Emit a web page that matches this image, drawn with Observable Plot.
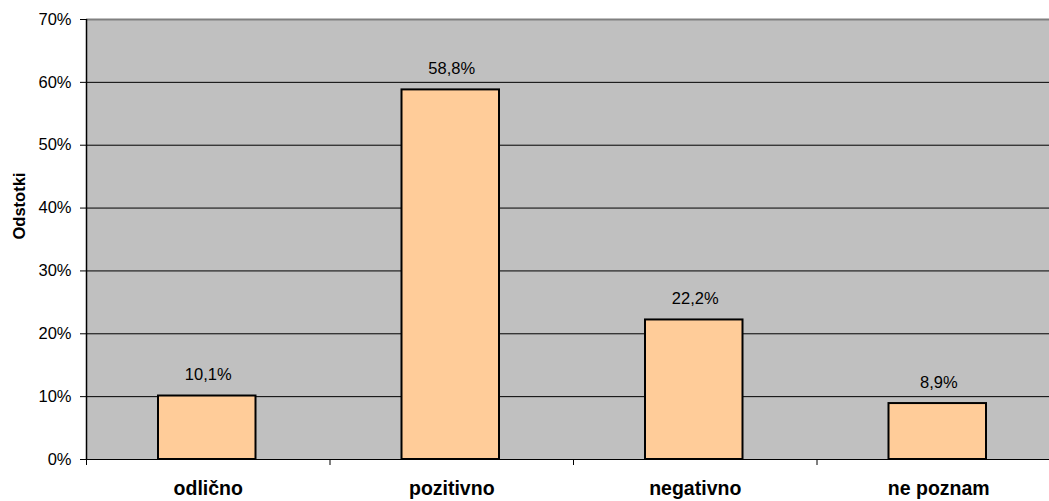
<!DOCTYPE html>
<html>
<head>
<meta charset="utf-8">
<script src="https://cdn.jsdelivr.net/npm/d3@7"></script>
<script src="https://cdn.jsdelivr.net/npm/@observablehq/plot@0.6"></script>
<style>
  html, body { margin: 0; padding: 0; background: #fff; overflow: hidden; }
  #chart svg { display: block; max-width: none !important; }
</style>
</head>
<body>
<div id="chart"></div>
<script>
// Survey answers and their shares (percent)
const categories = ["odlično", "pozitivno", "negativno", "ne poznam"];
const values = [10.1, 58.8, 22.2, 8.9];
const yTicks = [0, 10, 20, 30, 40, 50, 60, 70];

const data = categories.map((c, i) => ({ category: c, index: i, value: values[i] }));
const fmt = v => v.toFixed(1).replace(".", ",") + "%";

const chart = Plot.plot({
  width: 1060,
  height: 501,
  marginLeft: 86,
  marginRight: 0,
  marginTop: 19,
  marginBottom: 42,
  style: { fontFamily: "Arial, 'Liberation Sans', sans-serif", background: "#fff", maxWidth: "none" },
  x: { type: "linear", domain: [0, categories.length], axis: null },
  y: { domain: [0, 70], axis: null },
  marks: [
    // plot background
    Plot.frame({ fill: "#c0c0c0", stroke: null }),
    // horizontal gridlines
    Plot.ruleY(yTicks.filter(t => t > 0 && t < 70), { stroke: "#000", strokeWidth: 1 }),
    // top border of the plot area
    Plot.ruleY([70], { stroke: "#808080", strokeWidth: 2 }),
    // bars
    Plot.rectY(data, {
      x1: d => d.index, x2: d => d.index + 1, y: "value",
      insetLeft: 72, insetRight: 74,
      fill: "#ffcc99", stroke: "#000", strokeWidth: 2
    }),
    // value labels
    Plot.text(data, {
      x: d => d.index + 0.5, y: "value", text: d => fmt(d.value),
      dy: -21, fontSize: 16.5, fill: "#000"
    }),
    // axis lines
    Plot.ruleY([0], { stroke: "#000", strokeWidth: 1 }),
    Plot.ruleX([0], { stroke: "#000", strokeWidth: 1.5 }),
    // y axis ticks and labels
    Plot.axisY(yTicks, {
      label: null, tickSize: 6, tickPadding: 9, fontSize: 16.5, stroke: "#000",
      tickFormat: d => d + "%", fill: "#000"
    }),
    // category boundary ticks
    Plot.axisX(d3.range(categories.length + 1), {
      label: null, tickSize: 6, tickFormat: () => "", stroke: "#000"
    }),
    // category labels
    Plot.axisX(categories.map((c, i) => i + 0.5), {
      label: null, tickSize: 0, tickPadding: 22, fontSize: 19.5, fontWeight: "bold",
      tickFormat: d => categories[Math.floor(d)], fill: "#000"
    }),
    // y axis title
    Plot.text(["Odstotki"], {
      frameAnchor: "left", dx: -67, rotate: -90,
      fontSize: 16.5, fontWeight: "bold", fill: "#000"
    })
  ]
});

document.getElementById("chart").append(chart);
</script>
</body>
</html>
